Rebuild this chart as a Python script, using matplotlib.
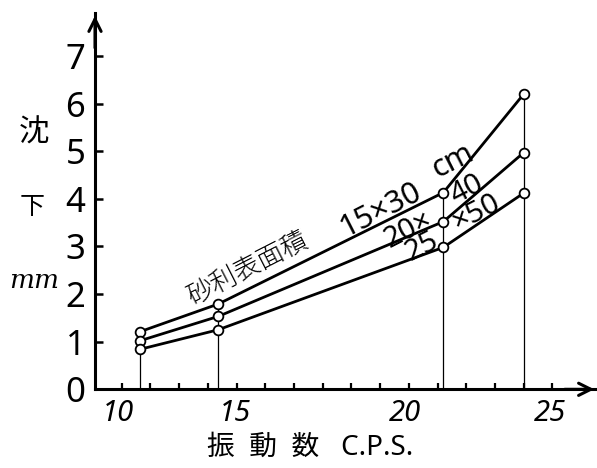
import matplotlib
matplotlib.use("Agg")
import matplotlib.pyplot as plt

plt.rcParams['font.family'] = ['Noto Sans', 'Noto Sans CJK JP', 'DejaVu Sans']

# vibration frequency (C.P.S.) and settlement (mm)
freq = [10.64, 13.36, 21.2, 24.0]
s15x30 = [1.21, 1.79, 4.13, 6.20]
s20x40 = [1.02, 1.53, 3.52, 4.97]
s25x50 = [0.84, 1.25, 2.98, 4.12]

yticks = [0, 1, 2, 3, 4, 5, 6, 7]
xticks = list(range(10, 26))
xlabels = ['10', '15', '20', '25']
xlabel_pos = [9.87, 13.95, 19.87, 24.92]   # where the hand-written labels sit

fig = plt.figure(figsize=(5.97, 4.68), dpi=100)
ax = fig.add_axes([95 / 597, 1 - 389.3 / 468, 502 / 597, 376.3 / 468])
ax.set_xlim(9.07, 26.55)
ax.set_ylim(0, 7.9)

for sp in ['top', 'right']:
    ax.spines[sp].set_visible(False)
for sp in ['left', 'bottom']:
    ax.spines[sp].set_linewidth(2.2)

# drop lines
ax.vlines(freq, 0, s15x30, colors='black', linewidth=0.9)

for s in [s15x30, s20x40, s25x50]:
    ax.plot(freq, s, color='black', linewidth=2.0, marker='o', markersize=7,
            markerfacecolor='white', markeredgecolor='black', markeredgewidth=1.3,
            zorder=3)

ax.set_yticks(yticks)
ax.set_yticklabels([str(v) for v in yticks], fontsize=25, fontweight='light')
ax.tick_params(axis='y', direction='in', length=6, width=1.8, pad=7)
ax.set_xticks(xticks)
ax.set_xticklabels([])
ax.tick_params(axis='x', direction='in', length=4, width=1.6)

for pos, lab in zip(xlabel_pos, xlabels):
    ax.text(pos, -0.2, lab, ha='center', va='top', fontsize=21, style='italic',
            fontweight='light')

# arrow heads on the axes
ax.annotate('', xy=(0, 1.0), xytext=(0, 0.9), xycoords='axes fraction',
            arrowprops=dict(arrowstyle='->', lw=2.2, mutation_scale=22), annotation_clip=False)
ax.annotate('', xy=(1.0, 0), xytext=(0.93, 0), xycoords='axes fraction',
            arrowprops=dict(arrowstyle='->', lw=2.2, mutation_scale=22), annotation_clip=False)

# curve labels
rot = 27
kw = dict(rotation=rot, rotation_mode='anchor', ha='center', va='center', fontweight='light')
ax.text(14.40, 2.52, '砂利表面積', fontsize=19, **kw)
ax.text(19.0, 3.77, '15×30', fontsize=22, **kw)
ax.text(21.55, 4.80, 'cm', fontsize=22, **kw)
ax.text(19.98, 3.35, '20×', fontsize=21, **kw)
ax.text(22.03, 4.19, '40', fontsize=21, **kw)
ax.text(20.46, 2.99, '25', fontsize=21, **kw)
ax.text(22.35, 3.70, '×50', fontsize=21, **kw)

# axis titles
fig.text(34 / 597, 1 - 134 / 468, '沈', ha='center', va='center', fontsize=22)
fig.text(32 / 597, 1 - 207 / 468, '下', ha='center', va='center', fontsize=18)
fig.text(34 / 597, 1 - 281 / 468, 'mm', ha='center', va='center', fontsize=19,
         family=['DejaVu Serif'], style='italic')
fig.text(310 / 597, 1 - 448 / 468, '振  動  数   C.P.S.', ha='center', va='center', fontsize=20)

fig.savefig('out.png', dpi=100)
